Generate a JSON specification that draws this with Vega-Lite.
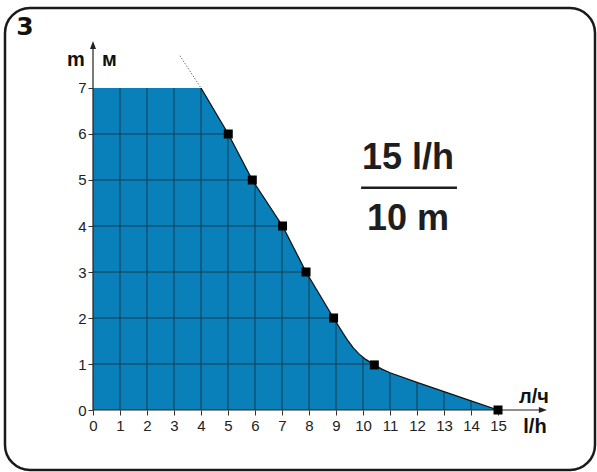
{
  "$schema": "https://vega.github.io/schema/vega-lite/v6.json",
  "autosize": {"type": "none"},
  "padding": {"left": 5, "top": 8, "right": 2, "bottom": 2},
  "width": 590,
  "height": 462,
  "background": "white",
  "config": {
    "view": {"stroke": "#1a1a1a", "strokeWidth": 2.5, "cornerRadius": 25},
    "font": "Liberation Sans, Arial, sans-serif",
    "axis": {
      "domain": false, "grid": false, "title": null,
      "tickSize": 5, "tickColor": "#333", "labelFontSize": 15, "labelColor": "#222",
      "labelFont": "Liberation Sans, Arial, sans-serif", "labelFlush": false, "labelOverlap": false
    }
  },
  "datasets": {
    "curve": [
      {"x": 0, "y": 7}, {"x": 4, "y": 7}, {"x": 5.01, "y": 6}, {"x": 5.9, "y": 5},
      {"x": 7.02, "y": 4}, {"x": 7.89, "y": 3}, {"x": 8.91, "y": 2}, {"x": 9.1, "y": 1.82},
      {"x": 9.27, "y": 1.66}, {"x": 9.45, "y": 1.5}, {"x": 9.64, "y": 1.35}, {"x": 9.85, "y": 1.22},
      {"x": 10.1, "y": 1.1}, {"x": 10.42, "y": 0.98}, {"x": 10.7, "y": 0.89},
      {"x": 11, "y": 0.81}, {"x": 12, "y": 0.6}, {"x": 13, "y": 0.4}, {"x": 14, "y": 0.2}, {"x": 15, "y": 0}
    ],
    "vgrid": [
      {"x": 1, "y": 7}, {"x": 2, "y": 7}, {"x": 3, "y": 7}, {"x": 4, "y": 7},
      {"x": 5, "y": 6}, {"x": 6, "y": 4.91}, {"x": 7, "y": 4.02}, {"x": 8, "y": 2.89},
      {"x": 9, "y": 1.92}, {"x": 10, "y": 1.14}, {"x": 11, "y": 0.81}, {"x": 12, "y": 0.6},
      {"x": 13, "y": 0.4}, {"x": 14, "y": 0.2}
    ],
    "hgrid": [
      {"y": 1, "x": 10.42}, {"y": 2, "x": 8.91}, {"y": 3, "x": 7.89},
      {"y": 4, "x": 7.02}, {"y": 5, "x": 5.9}, {"y": 6, "x": 5.01}
    ],
    "points": [
      {"x": 5.01, "y": 6}, {"x": 5.9, "y": 5}, {"x": 7.02, "y": 4}, {"x": 7.89, "y": 3},
      {"x": 8.91, "y": 2}, {"x": 10.42, "y": 0.98}, {"x": 15, "y": 0}
    ],
    "dotted": [{"x": 3.22, "y": 7.7}, {"x": 4, "y": 7}],
    "axes": [
      {"x": 0, "y": 0, "x2": 16.7, "y2": 0},
      {"x": 0, "y": 0, "x2": 0, "y2": 7.9}
    ],
    "bigtext": [
      {"label": "15 l/h", "x": 11.67, "y": 5.47},
      {"label": "10 m", "x": 11.67, "y": 4.16}
    ],
    "fracline": [{"x": 9.93, "x2": 13.48, "y": 4.83}],
    "units": [
      {"label": "m", "x": -0.63, "y": 7.61},
      {"label": "м", "x": 0.61, "y": 7.61},
      {"label": "л/ч", "x": 16.33, "y": 0.28},
      {"label": "l/h", "x": 16.37, "y": -0.37}
    ],
    "num": [{"label": "3", "x": -2.52, "y": 8.33}]
  },
  "encoding": {
    "x": {
      "field": "x", "type": "quantitative",
      "scale": {"domain": [-3.2593, 18.5926], "nice": false, "zero": false},
      "axis": {
        "values": [0, 1, 2, 3, 4, 5, 6, 7, 8, 9, 10, 11, 12, 13, 14, 15],
        "offset": -60, "labelPadding": 3
      }
    },
    "y": {
      "field": "y", "type": "quantitative",
      "scale": {"domain": [-1.3043, 8.7391], "nice": false, "zero": false},
      "axis": {
        "values": [0, 1, 2, 3, 4, 5, 6, 7],
        "offset": -88, "labelPadding": 2
      }
    }
  },
  "layer": [
    {
      "data": {"name": "curve"},
      "mark": {"type": "area", "color": "#0a80ba", "clip": false},
      "encoding": {"y2": {"datum": 0}}
    },
    {
      "data": {"name": "vgrid"},
      "mark": {"type": "rule", "color": "#173a4e", "strokeWidth": 1},
      "encoding": {"y2": {"datum": 0}}
    },
    {
      "data": {"name": "hgrid"},
      "mark": {"type": "rule", "color": "#173a4e", "strokeWidth": 1},
      "encoding": {"x2": {"datum": 0}}
    },
    {
      "data": {"name": "curve"},
      "transform": [{"filter": "datum.x >= 4"}],
      "mark": {"type": "line", "color": "#111", "strokeWidth": 1.3},
      "encoding": {}
    },
    {
      "data": {"name": "dotted"},
      "mark": {"type": "line", "color": "#333", "strokeWidth": 1, "strokeDash": [1, 2]},
      "encoding": {}
    },
    {
      "data": {"name": "axes"},
      "mark": {"type": "rule", "color": "#222", "strokeWidth": 1.2},
      "encoding": {
        "x2": {"field": "x2"},
        "y2": {"field": "y2"}
      }
    },
    {
      "data": {"values": [{"x": 16.81, "y": 0}]},
      "mark": {"type": "point", "shape": "M0,0L-1.6,-0.6L-1.6,0.6Z", "size": 100, "filled": true, "color": "#222", "opacity": 1}
    },
    {
      "data": {"values": [{"x": 0, "y": 8.02}]},
      "mark": {"type": "point", "shape": "M0,0L-0.6,1.6L0.6,1.6Z", "size": 100, "filled": true, "color": "#222", "opacity": 1}
    },
    {
      "data": {"name": "points"},
      "mark": {"type": "point", "shape": "square", "size": 81, "filled": true, "color": "#000", "opacity": 1}
    },
    {
      "data": {"name": "bigtext"},
      "mark": {"type": "text", "fontSize": 36, "fontWeight": "bold", "font": "Liberation Sans, Arial, sans-serif", "color": "#1e1e1e", "align": "center", "baseline": "middle"},
      "encoding": {"text": {"field": "label"}}
    },
    {
      "data": {"name": "fracline"},
      "mark": {"type": "rule", "color": "#1e1e1e", "strokeWidth": 2.5},
      "encoding": {"x2": {"field": "x2"}}
    },
    {
      "data": {"name": "units"},
      "mark": {"type": "text", "fontSize": 20, "fontWeight": "bold", "font": "Liberation Sans, Arial, sans-serif", "color": "#111", "align": "center", "baseline": "middle"},
      "encoding": {"text": {"field": "label"}}
    },
    {
      "data": {"name": "num"},
      "mark": {"type": "text", "fontSize": 25, "fontWeight": 900, "font": "DejaVu Sans", "color": "#111", "align": "center", "baseline": "middle"},
      "encoding": {"text": {"field": "label"}}
    }
  ]
}
